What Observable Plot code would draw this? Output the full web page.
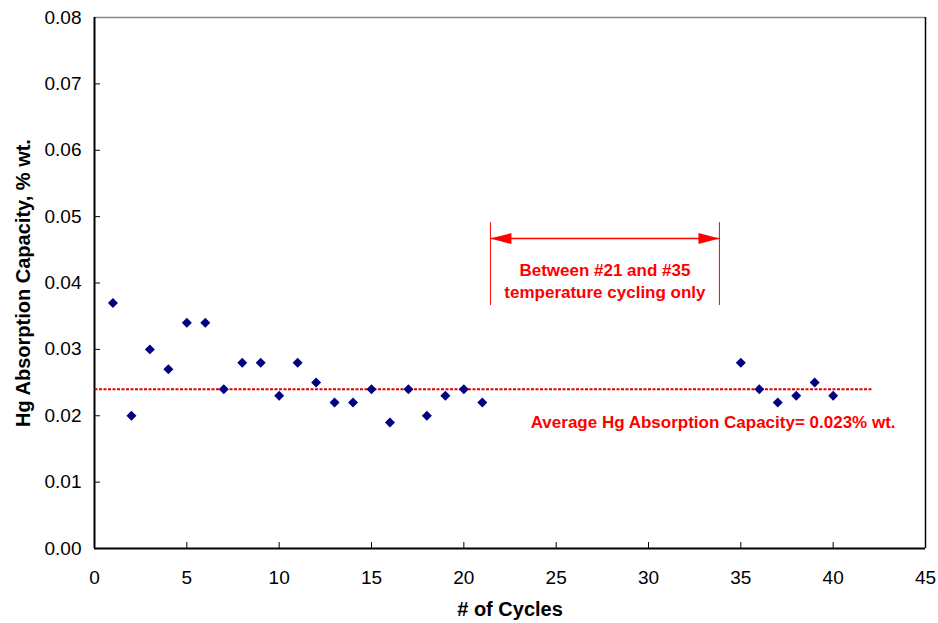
<!DOCTYPE html>
<html>
<head>
<meta charset="utf-8">
<script src="https://cdn.jsdelivr.net/npm/d3@7"></script>
<script src="https://cdn.jsdelivr.net/npm/@observablehq/plot@0.6"></script>
<style>
  html, body { margin: 0; padding: 0; background: #fff; }
  #chart svg { display: block; font-family: "Liberation Sans", Arial, sans-serif; }
</style>
</head>
<body>
<div id="chart"></div>
<script>
// Data
const cycles = [1,2,3,4,5,6,7,8,9,10,11,12,13,14,15,16,17,18,19,20,21,35,36,37,38,39,40];
const capacity = [0.037,0.020,0.030,0.027,0.034,0.034,0.024,0.028,0.028,0.023,0.028,0.025,0.022,0.022,0.024,0.019,0.024,0.020,0.023,0.024,0.022,0.028,0.024,0.022,0.023,0.025,0.023];
const xTicks = [0,5,10,15,20,25,30,35,40,45];
const yTicks = [0,0.01,0.02,0.03,0.04,0.05,0.06,0.07,0.08];
const xTitle = "# of Cycles";
const yTitle = "Hg Absorption Capacity, % wt.";

// Average line
const avgValue = 0.024;
const avgExtent = [0, 42.1];
const avgLabel = "Average Hg Absorption Capacity= 0.023% wt.";
const avgLabelPos = {x: 33.5, y: 0.019};

// Bracket annotation
const bracketX = [21.44, 33.84];
const bracketY = [0.0366, 0.0491];
const arrowY = 0.0467;
const bracketLines = ["Between #21 and #35", "temperature cycling only"];
const bracketLineY = [0.0419, 0.0386];

// inner tick lengths (data units)
const xTickLen = 0.0009;
const yTickLen = 0.32;

const points = cycles.map((c, i) => ({cycle: c, value: capacity[i]}));
const red = "#ff0000";

function filledArrow(color, context) {
  const doc = (context && context.document) || document;
  const m = d3.select(doc.createElementNS("http://www.w3.org/2000/svg", "marker"));
  m.attr("viewBox", "-22 -6 23 12")
   .attr("markerUnits", "userSpaceOnUse")
   .attr("markerWidth", 23)
   .attr("markerHeight", 12)
   .attr("refX", 0).attr("refY", 0)
   .attr("orient", "auto-start-reverse")
   .append("path").attr("d", "M0,0L-21,-5.5L-21,5.5Z").attr("fill", color).attr("stroke", "none");
  return m.node();
}

const chart = Plot.plot({
  width: 938,
  height: 623,
  marginLeft: 94,
  marginRight: 13,
  marginTop: 17,
  marginBottom: 75,
  style: {fontFamily: "Liberation Sans, Arial, sans-serif", fontSize: "19px", color: "#000"},
  x: {domain: [0, 45], label: null},
  y: {domain: [0, 0.08], label: null},
  marks: [
    // plot frame
    Plot.ruleY([0.08], {stroke: "#888", strokeWidth: 1.5}),
    Plot.ruleX([45], {stroke: "#000", strokeWidth: 1.5}),
    // inside ticks
    Plot.ruleX(xTicks.slice(1, -1), {y1: 0, y2: xTickLen, stroke: "#000", strokeWidth: 1}),
    Plot.ruleY(yTicks.slice(1, -1), {x1: 0, x2: yTickLen, stroke: "#000", strokeWidth: 1}),
    Plot.ruleX([0], {stroke: "#000", strokeWidth: 2}),
    Plot.ruleY([0], {stroke: "#000", strokeWidth: 2}),
    Plot.axisX({ticks: xTicks, tickSize: 0, tickPadding: 22, tickFormat: d => String(d), fontSize: 19, label: null}),
    Plot.axisY({ticks: yTicks, tickSize: 0, tickPadding: 13, tickFormat: d => d.toFixed(2), fontSize: 19, label: null}),
    Plot.text([xTitle], {frameAnchor: "bottom", dy: 67, fontWeight: "bold", fontSize: 20}),
    Plot.text([yTitle], {frameAnchor: "left", textAnchor: "middle", dx: -71, rotate: -90, fontWeight: "bold", fontSize: 20}),
    // average line
    Plot.link([avgValue], {x1: avgExtent[0], x2: avgExtent[1], y1: d => d, y2: d => d, stroke: "#e00000", strokeWidth: 2, strokeDasharray: "3,1.5"}),
    Plot.text([avgLabel], {x: avgLabelPos.x, y: avgLabelPos.y, fill: red, fontWeight: "bold", fontSize: 17}),
    // bracket
    Plot.ruleX(bracketX, {y1: bracketY[0], y2: bracketY[1], stroke: red, strokeWidth: 1}),
    Plot.link([arrowY], {x1: bracketX[0], x2: bracketX[1], y1: d => d, y2: d => d, stroke: red, strokeWidth: 1.5, markerStart: filledArrow, markerEnd: filledArrow}),
    Plot.text(bracketLines, {x: (bracketX[0] + bracketX[1]) / 2, y: (d, i) => bracketLineY[i], fill: red, fontWeight: "bold", fontSize: 17}),
    // data
    Plot.dot(points, {x: "cycle", y: "value", symbol: "diamond2", r: 4.5, fill: "#000080", stroke: "none"})
  ]
});

document.getElementById("chart").appendChild(chart);
</script>
</body>
</html>
